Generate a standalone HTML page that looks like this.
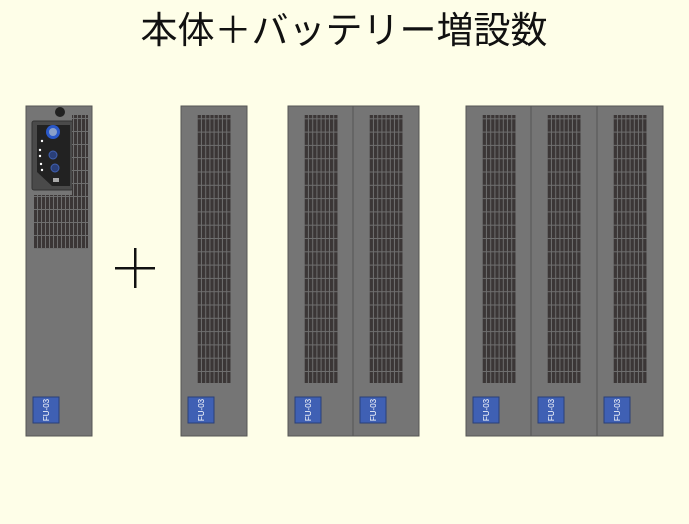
<!DOCTYPE html>
<html><head><meta charset="utf-8"><style>
html,body{margin:0;padding:0;background:#fefee8;}
svg{display:block}
</style></head><body>
<svg width="689" height="524" viewBox="0 0 689 524" xmlns="http://www.w3.org/2000/svg">
<defs>
<pattern id="vent" x="0" y="0" width="4.2" height="13.3" patternUnits="userSpaceOnUse">
<rect width="4.2" height="13.3" fill="#6e6e6e"/>
<rect x="0" y="0" width="3.2" height="12.3" fill="#3b3636"/>
</pattern>
<pattern id="vent2" x="0" y="0" width="4" height="13" patternUnits="userSpaceOnUse">
<rect width="4" height="13" fill="#6e6e6e"/>
<rect x="0" y="0" width="3" height="12" fill="#3b3636"/>
</pattern>
<g id="bat">
<rect x="0" y="0" width="66" height="330" fill="#757575" stroke="#555" stroke-width="1"/>
<rect x="16" y="9" width="34" height="268" fill="url(#vent)"/>
<rect x="7" y="291" width="26" height="26" fill="#3f60b4" stroke="#2a3f78" stroke-width="1"/>
<text x="0" y="0" transform="translate(21,304) rotate(-90)" font-family="Liberation Sans,sans-serif" font-size="8" fill="#fff" text-anchor="middle" dominant-baseline="middle">FU-03</text>
</g>
</defs>
<rect width="689" height="524" fill="#fefee8"/>
<text x="344" y="43" font-family="Liberation Sans,'Noto Sans CJK JP',sans-serif" font-size="37" text-anchor="middle" fill="#111">本体＋バッテリー増設数</text>

<g transform="translate(26,106)">
<rect x="0" y="0" width="66" height="330" fill="#757575" stroke="#555"/>
<circle cx="34" cy="6" r="5" fill="#222"/>
<rect x="6" y="15" width="41" height="69" rx="2" fill="#4a4a4a" stroke="#333"/>
<path d="M11,19 L44,19 L44,80 L26,80 L11,66 Z" fill="#222"/>
<ellipse cx="27" cy="26" rx="7" ry="7" fill="#2a58c8"/>
<circle cx="27" cy="26" r="4" fill="#8aa0c8"/>
<circle cx="27" cy="49" r="4" fill="#2a3f78" stroke="#4060b0"/>
<circle cx="29" cy="62" r="4" fill="#2a3f78" stroke="#4060b0"/>
<rect x="27" y="72" width="6" height="4" fill="#aaa"/>
<circle cx="16" cy="35" r="1.2" fill="#fff"/><circle cx="14" cy="44" r="1.2" fill="#fff"/>
<circle cx="14" cy="50" r="1.2" fill="#fff"/><circle cx="15" cy="58" r="1.2" fill="#fff"/><circle cx="16" cy="64" r="1.2" fill="#fff"/>
<rect x="46" y="9" width="16" height="134" fill="url(#vent2)"/>
<rect x="8" y="89" width="42" height="54" fill="url(#vent2)"/>
<rect x="7" y="291" width="26" height="26" fill="#3f60b4" stroke="#2a3f78"/>
<text transform="translate(21,304) rotate(-90)" font-family="Liberation Sans,sans-serif" font-size="8" fill="#fff" text-anchor="middle" dominant-baseline="middle">FU-03</text>
</g>

<rect x="115" y="267" width="40" height="2.5" fill="#111"/>
<rect x="134" y="248" width="2.5" height="40" fill="#111"/>

<use href="#bat" x="181" y="106"/>
<use href="#bat" x="288" y="106"/>
<use href="#bat" x="353" y="106"/>
<use href="#bat" x="466" y="106"/>
<use href="#bat" x="531" y="106"/>
<use href="#bat" x="597" y="106"/>
</svg>
</body></html>
